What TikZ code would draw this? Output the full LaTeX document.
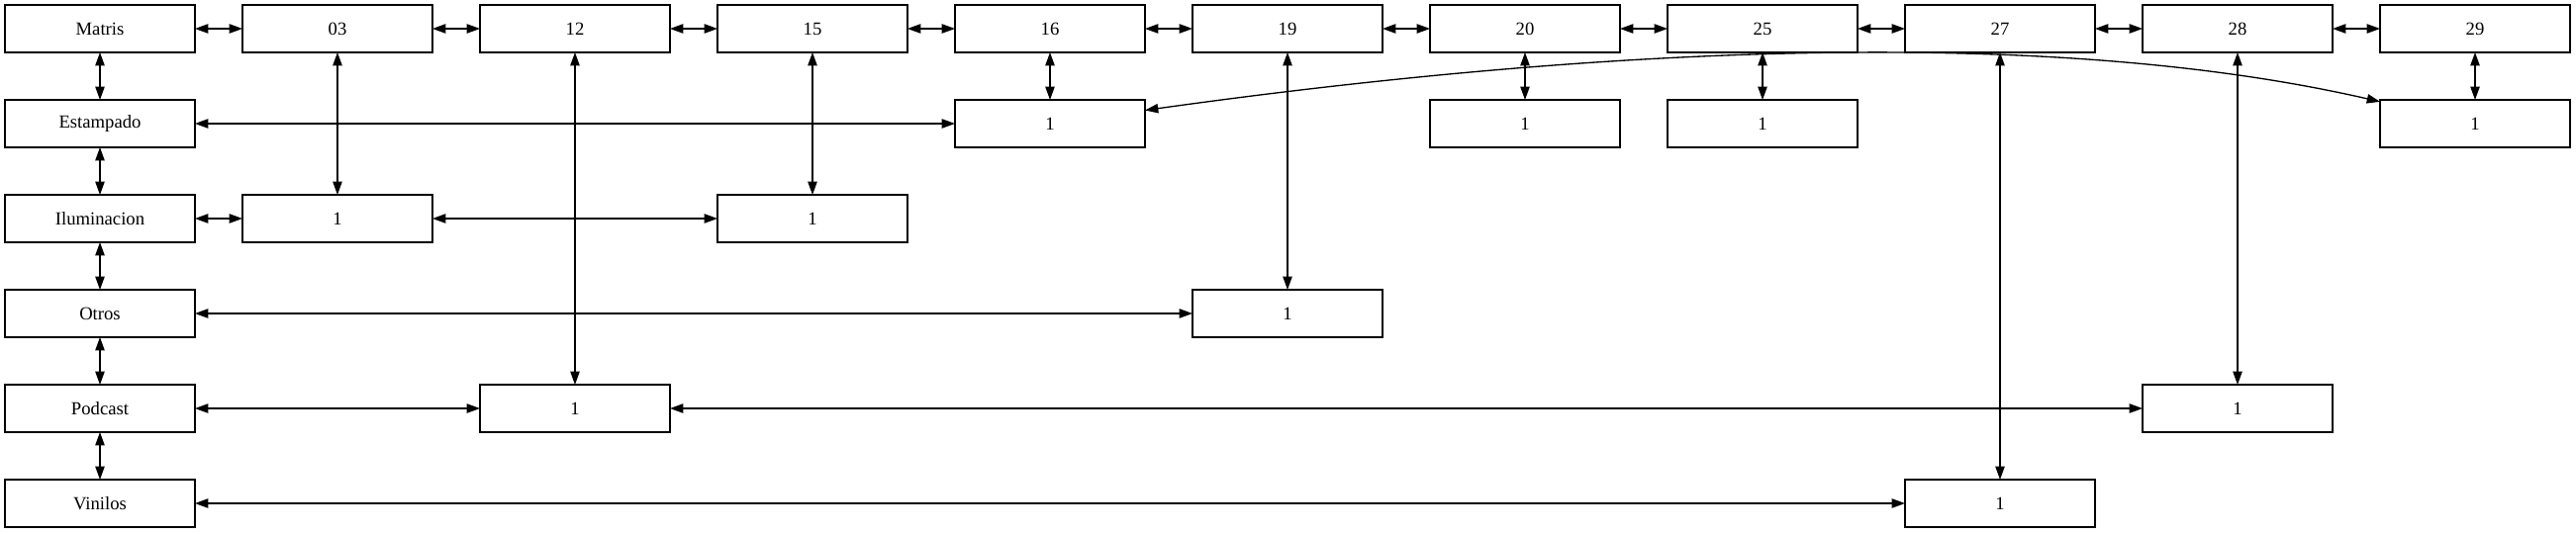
\documentclass[tikz,border=0pt]{standalone}
\usepackage{fontspec}
\setmainfont{Liberation Serif}
\usetikzlibrary{arrows.meta, positioning}
\tikzstyle{cell} = [
    rectangle, 
    minimum width=192pt, 
    minimum height=48pt,
    outer sep=0pt,
    text centered, 
    draw=black, 
    line width=1.33pt,
    font=\fontsize{18.67}{22}\selectfont
]
\tikzstyle{arrow} = [line width=1.33pt,<->,>={Triangle[length=13.3pt,width=9.3pt]}]

\begin{document}
\begin{tikzpicture}[node distance=48pt]

\useasboundingbox (-101pt,29pt) rectangle (2502pt,-510pt);

% header row
\node (matris) [cell] {Matris};
\node (h03) [cell, right=of matris] {03};
\node (h12) [cell, right=of h03] {12};
\node (h15) [cell, right=of h12] {15};
\node (h16) [cell, right=of h15] {16};
\node (h19) [cell, right=of h16] {19};
\node (h20) [cell, right=of h19] {20};
\node (h25) [cell, right=of h20] {25};
\node (h27) [cell, right=of h25] {27};
\node (h28) [cell, right=of h27] {28};
\node (h29) [cell, right=of h28] {29};

% row heads
\node (estampado) [cell, below=of matris] {Estampado};
\node (ilum) [cell, below=of estampado] {Iluminacion};
\node (otros) [cell, below=of ilum] {Otros};
\node (podcast) [cell, below=of otros] {Podcast};
\node (vinilos) [cell, below=of podcast] {Vinilos};

% entries
\node (e16) [cell, below=of h16] {1};
\node (e20) [cell, below=of h20] {1};
\node (e25) [cell, below=of h25] {1};
\node (e29) [cell, below=of h29] {1};
\node (i03) [cell] at (h03 |- ilum) {1};
\node (i15) [cell] at (h15 |- ilum) {1};
\node (o19) [cell] at (h19 |- otros) {1};
\node (p12) [cell] at (h12 |- podcast) {1};
\node (p28) [cell] at (h28 |- podcast) {1};
\node (v27) [cell] at (h27 |- vinilos) {1};

% header links
\draw [arrow] (matris) -- (h03);
\draw [arrow] (h03) -- (h12);
\draw [arrow] (h12) -- (h15);
\draw [arrow] (h15) -- (h16);
\draw [arrow] (h16) -- (h19);
\draw [arrow] (h19) -- (h20);
\draw [arrow] (h20) -- (h25);
\draw [arrow] (h25) -- (h27);
\draw [arrow] (h27) -- (h28);
\draw [arrow] (h28) -- (h29);

\draw [arrow] (matris) -- (estampado);
\draw [arrow] (estampado) -- (ilum);
\draw [arrow] (ilum) -- (otros);
\draw [arrow] (otros) -- (podcast);
\draw [arrow] (podcast) -- (vinilos);

% columns
\draw [arrow] (h03) -- (i03);
\draw [arrow] (h12) -- (p12);
\draw [arrow] (h15) -- (i15);
\draw [arrow] (h16) -- (e16);
\draw [arrow] (h19) -- (o19);
\draw [arrow] (h20) -- (e20);
\draw [arrow] (h25) -- (e25);
\draw [arrow] (h27) -- (v27);
\draw [arrow] (h28) -- (p28);
\draw [arrow] (h29) -- (e29);

% rows
\draw [arrow] (estampado) -- (e16);
\draw [arrow] (e16.8) .. controls +(470pt,65.8pt) and +(-330pt,75.9pt) .. (e29.167);
\draw [arrow] (ilum) -- (i03);
\draw [arrow] (i03) -- (i15);
\draw [arrow] (otros) -- (o19);
\draw [arrow] (podcast) -- (p12);
\draw [arrow] (p12) -- (p28);
\draw [arrow] (vinilos) -- (v27);

\end{tikzpicture}
\end{document}
